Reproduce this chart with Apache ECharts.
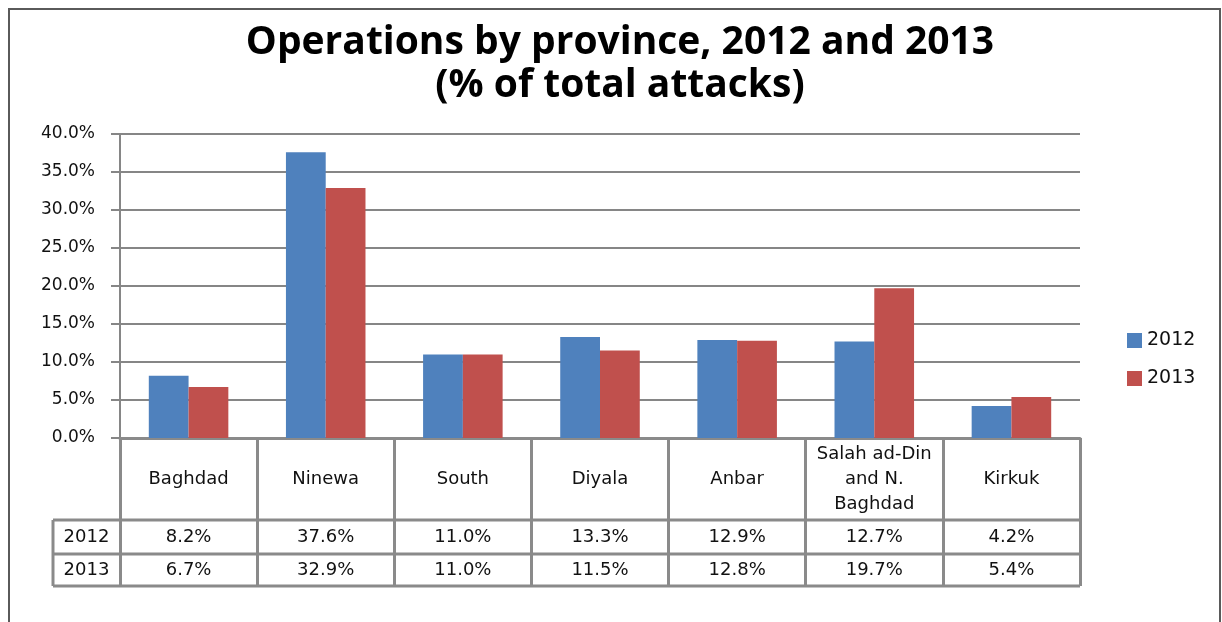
<!DOCTYPE html>
<html>
<head>
<meta charset="utf-8">
<script src="https://cdn.jsdelivr.net/npm/echarts@6/dist/echarts.min.js"></script>
<style>
html,body{margin:0;padding:0;background:#fff;}
#c{width:1222px;height:622px;}
</style>
</head>
<body>
<div id="c"></div>
<script>
var categories = ['Baghdad', 'Ninewa', 'South', 'Diyala', 'Anbar', 'Salah ad-Din\nand N.\nBaghdad', 'Kirkuk'];
var seriesNames = ['2012', '2013'];
var values2012 = [8.2, 37.6, 11.0, 13.3, 12.9, 12.7, 4.2];
var values2013 = [6.7, 32.9, 11.0, 11.5, 12.8, 19.7, 5.4];
var yTicks = [0, 5, 10, 15, 20, 25, 30, 35, 40];

var gridCol = '#868686';
var tableCol = '#8a8a8a';
var textCol = '#111111';
var font = 'DejaVu Sans';

var chart = echarts.init(document.getElementById('c'), null, {renderer: 'canvas'});
var option = {
  animation: false,
  backgroundColor: '#ffffff',
  title: {
    text: 'Operations by province, 2012 and 2013\n(% of total attacks)',
    left: 615,
    top: 16,
    textAlign: 'center',
    textStyle: {fontFamily: 'Open Sans', fontWeight: 'bold', fontSize: 39, lineHeight: 43, color: '#000'}
  },
  legend: {
    orient: 'vertical',
    left: 1122,
    top: 326,
    itemWidth: 15,
    itemHeight: 15,
    itemGap: 19,
    icon: 'rect',
    textStyle: {fontFamily: font, fontSize: 19, color: textCol},
    data: seriesNames
  },
  grid: {left: 120, right: 142, top: 134, bottom: 184, containLabel: false},
  xAxis: {
    type: 'category',
    data: categories,
    boundaryGap: true,
    axisLine: {show: true, lineStyle: {color: tableCol, width: 3}},
    axisTick: {show: true, length: 148, lineStyle: {color: tableCol, width: 3}},
    axisLabel: {
      interval: 0, margin: 41, verticalAlign: 'middle',
      fontFamily: font, fontSize: 18, lineHeight: 25, color: textCol
    },
    splitLine: {show: false}
  },
  yAxis: {
    type: 'value',
    min: yTicks[0],
    max: yTicks[yTicks.length - 1],
    interval: yTicks[1] - yTicks[0],
    axisLine: {show: true, lineStyle: {color: gridCol, width: 2}},
    axisTick: {show: true, length: 9, lineStyle: {color: gridCol, width: 2}},
    axisLabel: {
      margin: 25, fontFamily: font, fontSize: 17, color: textCol,
      formatter: function (v) { return v.toFixed(1) + '%'; }
    },
    splitLine: {show: true, lineStyle: {color: gridCol, width: 2}}
  },
  series: [
    {name: seriesNames[0], type: 'bar', data: values2012, barWidth: '29%', barGap: '0%', itemStyle: {color: '#4F81BD'}},
    {name: seriesNames[1], type: 'bar', data: values2013, barWidth: '29%', barGap: '0%', itemStyle: {color: '#C0504D'}}
  ]
};
chart.setOption(option);

// Data table under the axis
var rowY = [520, 554, 586];
var leftX = 53;
var x0 = chart.convertToPixel({xAxisIndex: 0}, 0);
var x1 = chart.convertToPixel({xAxisIndex: 0}, 1);
var band = x1 - x0;
var rightX = chart.convertToPixel({xAxisIndex: 0}, categories.length - 1) + band / 2;
var axisLeft = x0 - band / 2;
var g = [];
g.push({type: 'rect', z: -1, silent: true, shape: {x: 9, y: 9, width: 1211, height: 700},
  style: {fill: 'none', stroke: '#5a5a5a', lineWidth: 2}});
rowY.forEach(function (y) {
  g.push({type: 'line', silent: true, shape: {x1: leftX, y1: y, x2: rightX, y2: y}, style: {stroke: tableCol, lineWidth: 3}});
});
g.push({type: 'line', silent: true, shape: {x1: leftX, y1: rowY[0], x2: leftX, y2: rowY[2]}, style: {stroke: tableCol, lineWidth: 3}});
var rows = [values2012, values2013];
rows.forEach(function (arr, r) {
  var cy = (rowY[r] + rowY[r + 1]) / 2;
  g.push({type: 'text', silent: true, x: (leftX + axisLeft) / 2, y: cy,
    style: {text: seriesNames[r], fontFamily: font, fontSize: 18, fill: textCol, align: 'center', verticalAlign: 'middle'}});
  arr.forEach(function (v, i) {
    var cx = chart.convertToPixel({xAxisIndex: 0}, i);
    g.push({type: 'text', silent: true, x: cx, y: cy,
      style: {text: v.toFixed(1) + '%', fontFamily: font, fontSize: 18, fill: textCol, align: 'center', verticalAlign: 'middle'}});
  });
});
chart.setOption({graphic: g});
</script>
</body>
</html>
